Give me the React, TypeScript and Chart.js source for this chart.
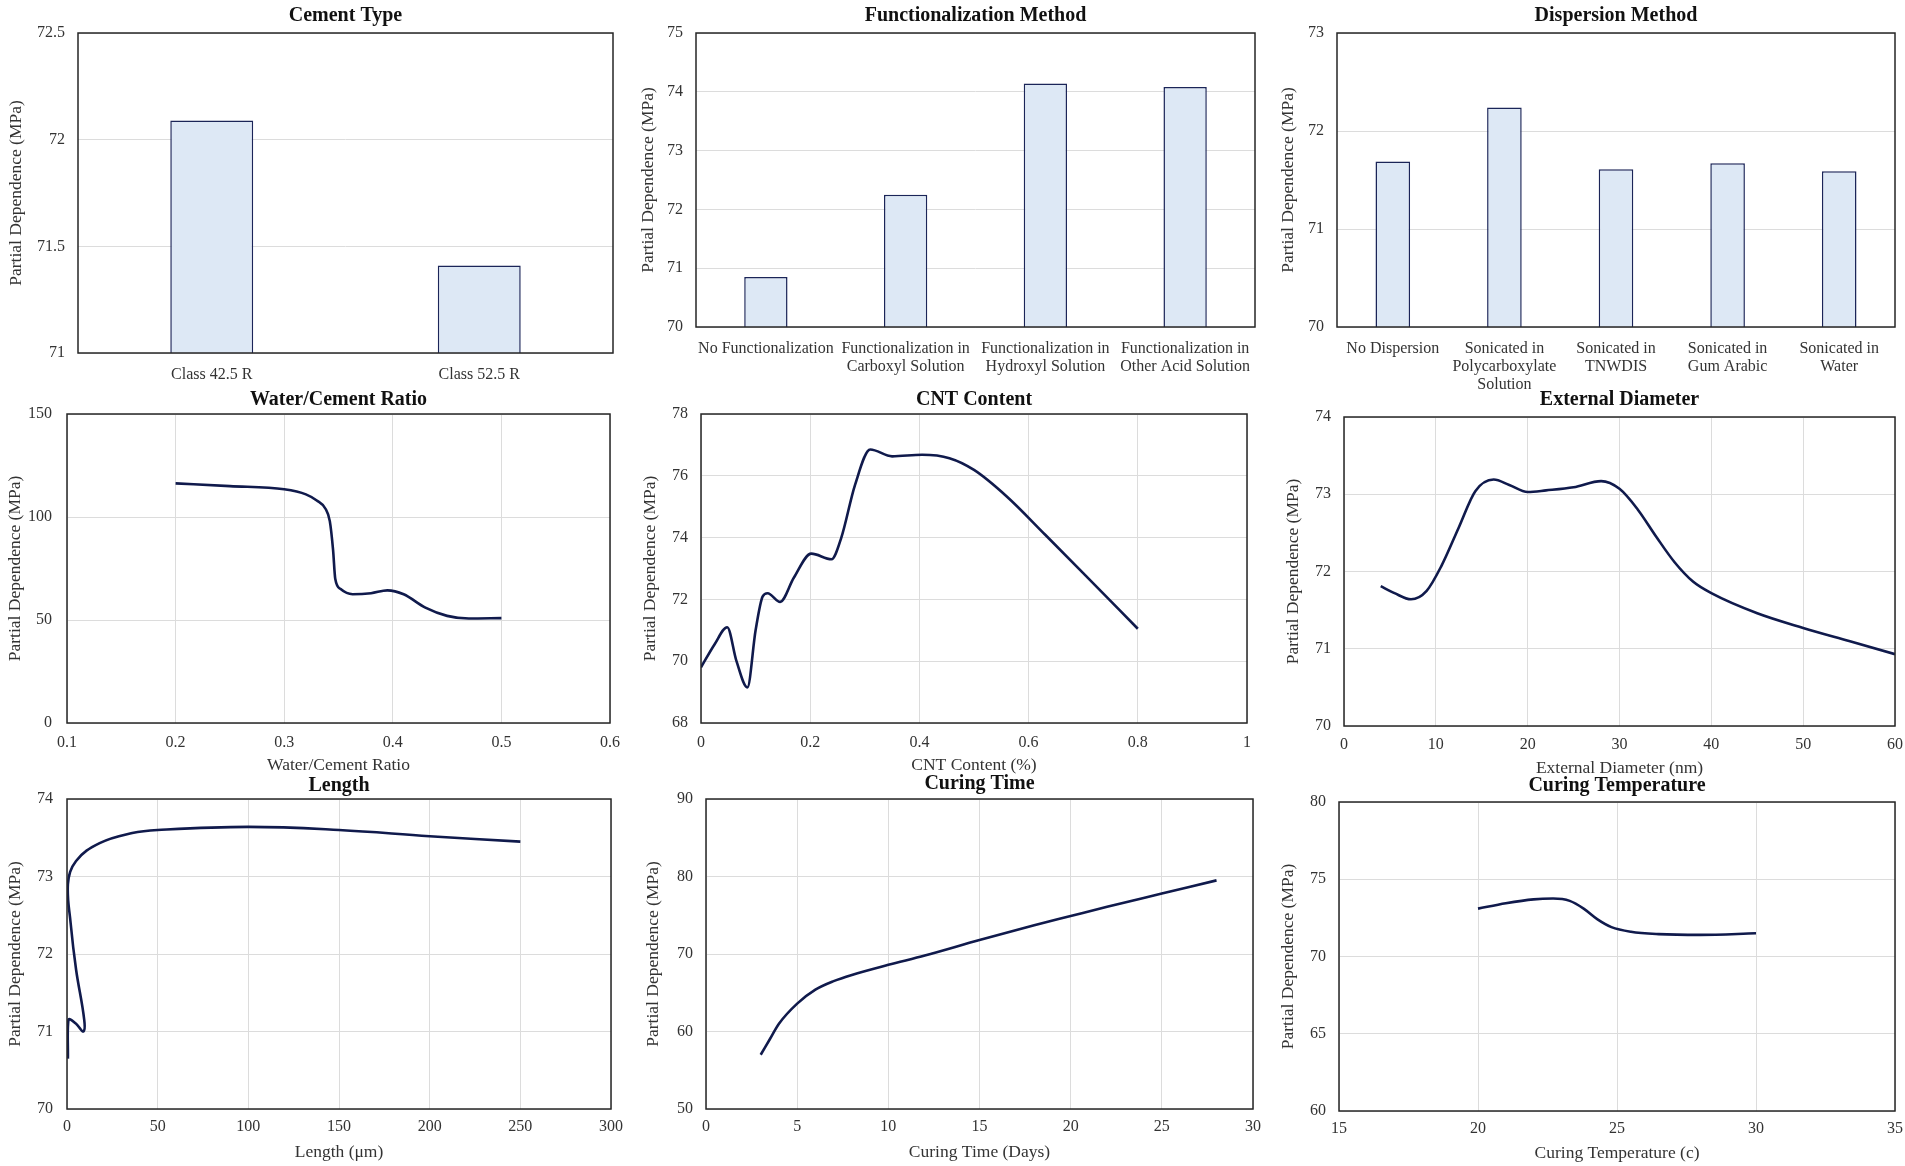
import React, { useEffect, useRef } from "react";
import { Chart, registerables } from "chart.js";

Chart.register(...registerables);

// ---------------- DATA ----------------
const cementCategories = ["Class 42.5 R", "Class 52.5 R"];
const cementValues = [72.09, 71.41];

const funcCategories = [
  ["No Functionalization"],
  ["Functionalization in", "Carboxyl Solution"],
  ["Functionalization in", "Hydroxyl Solution"],
  ["Functionalization in", "Other Acid Solution"],
];
const funcValues = [70.85, 72.25, 74.14, 74.08];

const dispCategories = [
  ["No Dispersion"],
  ["Sonicated in", "Polycarboxylate", "Solution"],
  ["Sonicated in", "TNWDIS"],
  ["Sonicated in", "Gum Arabic"],
  ["Sonicated in", "Water"],
];
const dispValues = [71.69, 72.24, 71.61, 71.67, 71.59];

const wcX = [0.2, 0.25, 0.3, 0.32, 0.33, 0.338, 0.342, 0.345, 0.347, 0.352, 0.363, 0.38, 0.395, 0.41, 0.43, 0.45, 0.47, 0.5];
const wcY = [116.3, 115, 113.5, 111, 108, 104, 98, 84, 70, 65, 62.5, 63, 64.4, 62.5, 56, 52, 50.7, 50.9];

const cntX = [0, 0.025, 0.048, 0.065, 0.085, 0.1, 0.113, 0.122, 0.145, 0.17, 0.202, 0.239, 0.257, 0.282, 0.31, 0.35, 0.405, 0.455, 0.5, 0.56, 0.63, 0.7, 0.8];
const cntY = [69.8, 70.55, 71.1, 70.0, 69.15, 71.0, 72.1, 72.2, 71.92, 72.7, 73.48, 73.3, 74.0, 75.7, 76.85, 76.63, 76.68, 76.57, 76.19, 75.33, 74.1, 72.85, 71.05];

const diamX = [4, 5.5, 7.3, 9, 10.6, 12.5, 14.3, 16.3, 18, 20, 22, 25, 28, 30, 32, 34, 36, 38, 40, 45, 50, 55, 60];
const diamY = [71.81, 71.72, 71.64, 71.75, 72.07, 72.57, 73.04, 73.19, 73.12, 73.03, 73.05, 73.09, 73.17, 73.07, 72.8, 72.45, 72.12, 71.87, 71.72, 71.46, 71.27, 71.1, 70.93];

const lengthX = [0.5, 0.8, 5, 9, 9.5, 5, 2, 0.5, 5, 18, 36, 50, 100, 150, 200, 250];
const lengthY = [70.65, 71.15, 71.1, 71.0, 71.15, 71.8, 72.4, 72.9, 73.2, 73.43, 73.56, 73.6, 73.64, 73.6, 73.52, 73.45];

const curingTimeX = [3, 3.5, 4, 5, 6, 7, 8, 10, 12, 15, 18, 20, 22, 25, 28];
const curingTimeY = [57, 59, 61, 63.6, 65.4, 66.5, 67.3, 68.6, 69.8, 71.8, 73.7, 74.9, 76.1, 77.8, 79.5];

const curingTempX = [20, 21, 22, 22.7, 23.3, 23.8, 24.3, 24.8, 25.5, 26.5, 28, 30];
const curingTempY = [73.1, 73.45, 73.7, 73.75, 73.6, 73.1, 72.4, 71.9, 71.6, 71.45, 71.4, 71.5];

// axis ranges [min, max, step]
const cementYRange = [71, 72.5, 0.5];
const funcYRange = [70, 75, 1];
const dispYRange = [70, 73, 1];
const wcXRange = [0.1, 0.6, 0.1];
const wcYRange = [0, 150, 50];
const cntXRange = [0, 1, 0.2];
const cntYRange = [68, 78, 2];
const diamXRange = [0, 60, 10];
const diamYRange = [70, 74, 1];
const lengthXRange = [0, 300, 50];
const lengthYRange = [70, 74, 1];
const curingTimeXRange = [0, 30, 5];
const curingTimeYRange = [50, 90, 10];
const curingTempXRange = [15, 35, 5];
const curingTempYRange = [60, 80, 5];

// ---------------- STYLE ----------------
const FONT = "'Liberation Serif', 'Times New Roman', serif";
const LINE_COLOR = "#101a4c";
const BAR_FILL = "#dde8f5";
const BAR_BORDER = "#1b2558";
const GRID = "#dcdcdc";
const TEXT = "#333333";
const Y_TITLE = "Partial Dependence (MPa)";

const fmt = (v: any) => String(+Number(v).toFixed(3));

const framePlugin = {
  id: "frame",
  afterDraw(chart: any) {
    const { ctx, chartArea: a } = chart;
    ctx.save();
    ctx.strokeStyle = "#262626";
    ctx.lineWidth = 1.5;
    ctx.strokeRect(a.left, a.top, a.right - a.left, a.bottom - a.top);
    ctx.restore();
  },
};

type Spec = {
  L: number; T: number; R: number; B: number;
  titleY: number; yTitleX: number; xTitleY?: number;
  xPad: number; yPad: number;
};

type PanelDef = {
  title: string;
  kind: "bar" | "line";
  spec: Spec;
  categories?: any[];
  values?: number[];
  xs?: number[];
  ys?: number[];
  xRange?: number[];
  yRange: number[];
  xTitle?: string;
  monotone?: boolean;
};

function Panel({ p }: { p: PanelDef }) {
  const ref = useRef<HTMLCanvasElement>(null);
  const s = p.spec;
  const padRight = 24;
  const titleLH = 20 * 1.2;
  const axisLH = 17.5 * 1.2;
  const cLeft = Math.round(s.yTitleX - 12);
  const cTop = Math.round(s.titleY - titleLH / 2 - 2);
  const cRight = Math.round(s.R + padRight);
  const cBottom = Math.round(s.xTitleY !== undefined ? s.xTitleY + axisLH / 2 + 2 : s.B + 68);
  const w = cRight - cLeft;
  const h = cBottom - cTop;

  useEffect(() => {
    const yW = s.L - cLeft;
    const xH = cBottom - s.B;
    const tickFont = { family: FONT, size: 16, lineHeight: 1.12 };
    const titleFont = { family: FONT, size: 17.5, lineHeight: 1.2 };
    const isBar = p.kind === "bar";

    const data: any = isBar
      ? {
          labels: p.categories,
          datasets: [
            {
              data: p.values,
              backgroundColor: BAR_FILL,
              borderColor: BAR_BORDER,
              borderWidth: 1.5,
              borderSkipped: false,
              categoryPercentage: 1,
              barPercentage: 0.31,
            },
          ],
        }
      : {
          datasets: [
            {
              data: (p.xs || []).map((x, i) => ({ x, y: (p.ys || [])[i] })),
              showLine: true,
              pointRadius: 0,
              borderColor: LINE_COLOR,
              borderWidth: 2.6,
              tension: 0.4,
              cubicInterpolationMode: p.monotone ? "monotone" : "default",
              fill: false,
            },
          ],
        };

    const xScale: any = isBar
      ? {
          type: "category",
          grid: { display: false },
        }
      : {
          type: "linear",
          min: p.xRange![0],
          max: p.xRange![1],
          ticks: { stepSize: p.xRange![2], callback: fmt },
          grid: { color: GRID, lineWidth: 1, drawTicks: false },
        };
    xScale.border = { display: false };
    xScale.ticks = {
      ...(xScale.ticks || {}),
      font: tickFont,
      color: TEXT,
      padding: s.xPad,
      maxRotation: 0,
      minRotation: 0,
      autoSkip: false,
    };
    if (p.xTitle) {
      xScale.title = {
        display: true,
        text: p.xTitle,
        font: titleFont,
        color: TEXT,
        padding: 2,
      };
    }
    xScale.afterFit = (sc: any) => {
      sc.height = xH;
      sc.paddingLeft = 0;
      sc.paddingRight = 0;
    };

    const yScale: any = {
      type: "linear",
      min: p.yRange[0],
      max: p.yRange[1],
      ticks: {
        stepSize: p.yRange[2],
        font: tickFont,
        color: TEXT,
        padding: s.yPad,
        callback: fmt,
      },
      grid: { color: GRID, lineWidth: 1, drawTicks: false },
      border: { display: false },
      title: {
        display: true,
        text: Y_TITLE,
        font: titleFont,
        color: TEXT,
        padding: Math.max(0, s.yTitleX - cLeft - axisLH / 2),
      },
      afterFit: (sc: any) => {
        sc.width = yW;
        sc.paddingTop = 0;
        sc.paddingBottom = 0;
      },
    };

    const chart = new Chart(ref.current!, {
      type: isBar ? "bar" : "scatter",
      data,
      options: {
        animation: false,
        responsive: true,
        maintainAspectRatio: false,
        layout: { padding: { top: 2, right: padRight, bottom: 0, left: 0 } },
        plugins: {
          legend: { display: false },
          tooltip: { enabled: false },
          title: {
            display: true,
            text: p.title,
            fullSize: false,
            align: "center",
            color: "#111111",
            font: { family: FONT, size: 20, weight: "bold", lineHeight: 1.2 },
            padding: { top: 0, bottom: Math.max(0, s.T - (cTop + 2 + titleLH)) },
          },
        },
        scales: { x: xScale, y: yScale },
      } as any,
      plugins: [framePlugin],
    } as any);
    return () => chart.destroy();
  }, []);

  return (
    <div style={{ position: "absolute", left: cLeft, top: cTop, width: w, height: h }}>
      <canvas ref={ref} />
    </div>
  );
}

const panels: PanelDef[] = [
  {
    title: "Cement Type", kind: "bar",
    spec: { L: 78, T: 33, R: 613, B: 353, titleY: 16, yTitleX: 16, xPad: 5, yPad: 13 },
    categories: cementCategories, values: cementValues, yRange: cementYRange,
  },
  {
    title: "Functionalization Method", kind: "bar",
    spec: { L: 696, T: 33, R: 1255, B: 327, titleY: 16, yTitleX: 648, xPad: 5, yPad: 13 },
    categories: funcCategories, values: funcValues, yRange: funcYRange,
  },
  {
    title: "Dispersion Method", kind: "bar",
    spec: { L: 1337, T: 33, R: 1895, B: 327, titleY: 16, yTitleX: 1288, xPad: 5, yPad: 13 },
    categories: dispCategories, values: dispValues, yRange: dispYRange,
  },
  {
    title: "Water/Cement Ratio", kind: "line", monotone: true,
    spec: { L: 67, T: 414, R: 610, B: 723, titleY: 400, yTitleX: 15, xTitleY: 765, xPad: 11, yPad: 15 },
    xs: wcX, ys: wcY, xRange: wcXRange, yRange: wcYRange, xTitle: "Water/Cement Ratio",
  },
  {
    title: "CNT Content", kind: "line", monotone: true,
    spec: { L: 701, T: 414, R: 1247, B: 723, titleY: 400, yTitleX: 650, xTitleY: 765, xPad: 11, yPad: 13 },
    xs: cntX, ys: cntY, xRange: cntXRange, yRange: cntYRange, xTitle: "CNT Content (%)",
  },
  {
    title: "External Diameter", kind: "line", monotone: true,
    spec: { L: 1344, T: 417, R: 1895, B: 726, titleY: 400, yTitleX: 1293, xTitleY: 768, xPad: 10, yPad: 13 },
    xs: diamX, ys: diamY, xRange: diamXRange, yRange: diamYRange, xTitle: "External Diameter (nm)",
  },
  {
    title: "Length", kind: "line", monotone: false,
    spec: { L: 67, T: 799, R: 611, B: 1109, titleY: 786, yTitleX: 15, xTitleY: 1152, xPad: 9, yPad: 14 },
    xs: lengthX, ys: lengthY, xRange: lengthXRange, yRange: lengthYRange, xTitle: "Length (μm)",
  },
  {
    title: "Curing Time", kind: "line", monotone: true,
    spec: { L: 706, T: 799, R: 1253, B: 1109, titleY: 784, yTitleX: 653, xTitleY: 1152, xPad: 9, yPad: 13 },
    xs: curingTimeX, ys: curingTimeY, xRange: curingTimeXRange, yRange: curingTimeYRange, xTitle: "Curing Time (Days)",
  },
  {
    title: "Curing Temperature", kind: "line", monotone: true,
    spec: { L: 1339, T: 802, R: 1895, B: 1111, titleY: 786, yTitleX: 1288, xTitleY: 1153, xPad: 9, yPad: 13 },
    xs: curingTempX, ys: curingTempY, xRange: curingTempXRange, yRange: curingTempYRange, xTitle: "Curing Temperature (c)",
  },
];

export default function App() {
  return (
    <div
      style={{
        position: "absolute",
        left: 0,
        top: 0,
        width: 1905,
        height: 1166,
        background: "#ffffff",
        overflow: "hidden",
      }}
    >
      {panels.map((p, i) => (
        <Panel key={i} p={p} />
      ))}
    </div>
  );
}
